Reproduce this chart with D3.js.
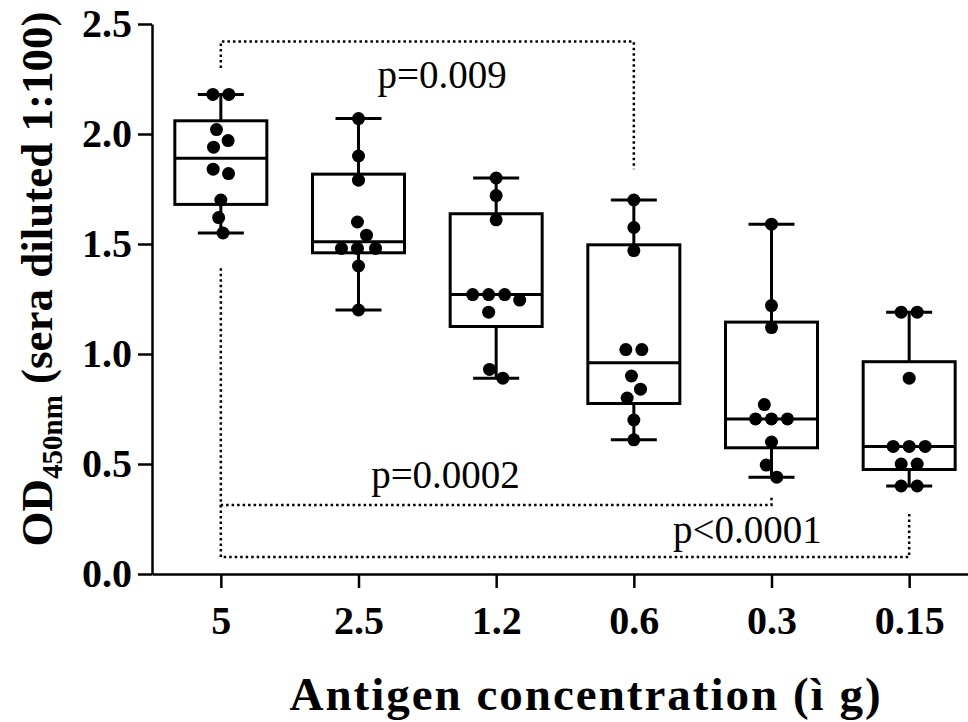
<!DOCTYPE html>
<html>
<head>
<meta charset="utf-8">
<script src="https://cdn.jsdelivr.net/npm/d3@7"></script>
<style>
  html, body { margin: 0; padding: 0; background: #fff; }
  svg { display: block; }
  text { font-family: "Liberation Serif", "Times New Roman", serif; fill: #000; }
</style>
</head>
<body>
<svg id="chart" width="968" height="722"></svg>
<script>
/*
** Data
*/
var concentrations = ["5", "2.5", "1.2", "0.6", "0.3", "0.15"]
  , od_5    = [2.18, 2.18, 2.02, 1.97, 1.94, 1.84, 1.82, 1.70, 1.62, 1.55]
  , od_2_5  = [2.07, 1.90, 1.79, 1.60, 1.54, 1.48, 1.48, 1.48, 1.40, 1.20]
  , od_1_2  = [1.80, 1.72, 1.61, 1.27, 1.27, 1.27, 1.245, 1.19, 0.93, 0.89]
  , od_0_6  = [1.70, 1.575, 1.47, 1.02, 1.02, 0.90, 0.84, 0.80, 0.70, 0.61]
  , od_0_3  = [1.59, 1.22, 1.12, 0.77, 0.705, 0.705, 0.705, 0.60, 0.495, 0.44]
  , od_0_15 = [1.19, 1.19, 0.89, 0.58, 0.58, 0.58, 0.50, 0.50, 0.40, 0.40]
  , yTicks  = [0, 0.5, 1.0, 1.5, 2.0, 2.5]
  // significance brackets: groups compared, bracket level, leg ends, label
  , pFrom   = ["5", "5", "5"]
  , pTo     = ["0.6", "0.3", "0.15"]
  , pLevel  = [2.42, 0.314, 0.077]
  , pLegA   = [2.30, 1.39, 0.314]
  , pLegB   = [1.84, 0.36, 0.28]
  , pText   = ["p=0.009", "p=0.0002", "p<0.0001"]
  , pTextAt = [0.536, 0.408, 0.765]
  , pTextY  = [2.21, 0.39, 0.14]
;

var groups = [od_5, od_2_5, od_1_2, od_0_6, od_0_3, od_0_15];

/*
** Layout
*/
var width = 968
  , height = 722
  , x0 = 152
  , y0 = 574
  , boxWidth = 92
  , capWidth = 46
  , dotR = 6.5
  , dotGap = 16
  , svg = d3.select("#chart")
  , x = d3.scalePoint().domain(concentrations).range([x0, 978]).padding(0.5)
  , y = d3.scaleLinear().domain([0, 2.5]).range([y0, 24])
;

/*
** Helpers
*/
// quartiles the way Prism does them: position (n+1)p
function quantile6(sorted, p) {
    var n = sorted.length
      , h = (n + 1) * p - 1
      , lo = Math.max(0, Math.min(n - 1, Math.floor(h)))
      , hi = Math.max(0, Math.min(n - 1, lo + 1))
    ;
    return sorted[lo] + (h - Math.floor(h)) * (sorted[hi] - sorted[lo]);
} // quantile6()

// greedy beeswarm, each point goes to the free spot closest to the centre
function swarm(values) {
    var order = values.map(function(v, i) { return i; })
          .sort(function(a, b) { return values[b] - values[a]; })
      , placed = []
      , out = []
    ;
    order.forEach(function(i) {
        var py = y(values[i])
          , blocks = placed
              .filter(function(p) { return Math.abs(p.y - py) < dotGap; })
              .map(function(p) {
                  var w = Math.sqrt(dotGap * dotGap - (p.y - py) * (p.y - py));
                  return [p.x - w, p.x + w];
                })
          , cands = [0]
        ;
        blocks.forEach(function(b) { cands.push(b[0], b[1]); });
        cands.sort(function(a, b) { return Math.abs(a) - Math.abs(b) || b - a; });
        var px = cands.find(function(c) {
            return blocks.every(function(b) { return c <= b[0] + 1e-6 || c >= b[1] - 1e-6; });
          });
        var pt = { x: px, y: py, v: values[i] };
        placed.push(pt);
        out.push(pt);
      });

    // centre each touching cluster on the column line
    var cluster = [];
    function flush() {
        if(!cluster.length) return;
        var mid = (d3.min(cluster, function(p) { return p.x; }) + d3.max(cluster, function(p) { return p.x; })) / 2;
        cluster.forEach(function(p) { p.x -= mid; });
        cluster = [];
    }
    out.forEach(function(p, k) {
        if(k > 0 && p.y - out[k - 1].y >= dotGap) flush();
        cluster.push(p);
      });
    flush();
    return out;
} // swarm()

/*
** Axes
*/
var yAxis = d3.axisLeft(y)
    .tickValues(yTicks)
    .tickFormat(d3.format(".1f"))
    .tickSize(14)
    .tickSizeOuter(0)
    .tickPadding(6)
;
var xAxis = d3.axisBottom(x)
    .tickSize(14)
    .tickSizeOuter(0)
    .tickPadding(18)
;

svg.append("g")
    .attr("class", "axis y")
    .attr("transform", "translate(" + x0 + ",0)")
    .call(yAxis)
;
svg.append("g")
    .attr("class", "axis x")
    .attr("transform", "translate(0," + y0 + ")")
    .call(xAxis)
;
svg.selectAll(".axis path, .axis line")
    .attr("stroke", "#000")
    .attr("stroke-width", 2.5)
;
svg.selectAll(".axis text")
    .attr("font-family", "'Liberation Serif', 'Times New Roman', serif")
    .attr("font-weight", "bold")
    .attr("font-size", 40)
;

/*
** Boxes, whiskers and dots
*/
var cols = svg.append("g")
    .selectAll("g")
    .data(groups.map(function(vals, i) {
        var s = vals.slice().sort(d3.ascending);
        return {
            key: concentrations[i]
          , values: vals
          , min: s[0]
          , max: s[s.length - 1]
          , q1: quantile6(s, 0.25)
          , med: quantile6(s, 0.5)
          , q3: quantile6(s, 0.75)
        };
      }))
    .join("g")
    .attr("transform", function(d) { return "translate(" + x(d.key) + ",0)"; })
;

cols.each(function(d) {
    var g = d3.select(this);
    function line(x1, y1, x2, y2) {
        g.append("line")
            .attr("x1", x1).attr("y1", y1)
            .attr("x2", x2).attr("y2", y2)
            .attr("stroke", "#000")
            .attr("stroke-width", 3)
        ;
    }
    // whiskers
    line(0, y(d.max), 0, y(d.q3));
    line(0, y(d.q1), 0, y(d.min));
    line(-capWidth / 2, y(d.max), capWidth / 2, y(d.max));
    line(-capWidth / 2, y(d.min), capWidth / 2, y(d.min));
    // box
    g.append("rect")
        .attr("x", -boxWidth / 2)
        .attr("y", y(d.q3))
        .attr("width", boxWidth)
        .attr("height", y(d.q1) - y(d.q3))
        .attr("fill", "#fff")
        .attr("stroke", "#000")
        .attr("stroke-width", 3)
    ;
    line(-boxWidth / 2, y(d.med), boxWidth / 2, y(d.med));
    // dots
    g.selectAll("circle")
        .data(swarm(d.values))
        .join("circle")
        .attr("cx", function(p) { return p.x; })
        .attr("cy", function(p) { return p.y; })
        .attr("r", dotR)
        .attr("fill", "#000")
    ;
  });

/*
** Significance brackets
*/
var brackets = svg.append("g")
    .attr("fill", "none")
    .attr("stroke", "#000")
    .attr("stroke-width", 2.5)
    .attr("stroke-dasharray", "2.5 3")
;
pText.forEach(function(t, i) {
    var xa = x(pFrom[i]), xb = x(pTo[i]);
    brackets.append("path")
        .attr("d", d3.line()([[xa, y(pLegA[i])], [xa, y(pLevel[i])], [xb, y(pLevel[i])], [xb, y(pLegB[i])]]))
    ;
    svg.append("text")
        .attr("x", xa + (xb - xa) * pTextAt[i])
        .attr("y", y(pTextY[i]))
        .attr("text-anchor", "middle")
        .attr("font-size", 39)
        .text(t)
    ;
  });

/*
** Titles
*/
svg.append("text")
    .attr("x", 586)
    .attr("y", 710)
    .attr("text-anchor", "middle")
    .attr("font-size", 47)
    .attr("font-weight", "bold")
    .attr("letter-spacing", 2)
    .text("Antigen concentration (\u00ec g)")
;

var yTitle = svg.append("text")
    .attr("transform", "translate(52,279) rotate(-90)")
    .attr("text-anchor", "middle")
    .attr("font-size", 45)
    .attr("font-weight", "bold")
;
yTitle.append("tspan").text("OD");
yTitle.append("tspan").attr("font-size", 29).attr("dy", 10).text("450nm");
yTitle.append("tspan").attr("dy", -10).text(" (sera diluted 1:100)");
</script>
</body>
</html>
